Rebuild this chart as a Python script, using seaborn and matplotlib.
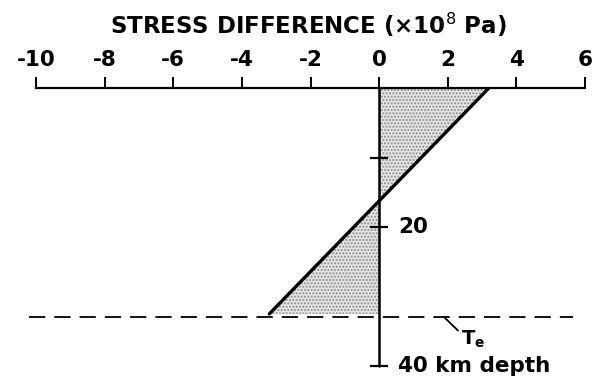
import matplotlib
matplotlib.use("Agg")
import matplotlib.pyplot as plt
import seaborn as sns
import pandas as pd

# stress profile through the elastic plate
depth_km = [0, 32.5]
stress_diff = [3.2, -3.2]
te_depth = 33
x_ticks = [-10, -8, -6, -4, -2, 0, 2, 4, 6]
depth_ticks = [10, 20, 40]

sns.set_style("white")
plt.rcParams['font.family'] = ['DejaVu Sans']
plt.rcParams['axes.unicode_minus'] = False
plt.rcParams['text.color'] = 'black'
plt.rcParams['xtick.color'] = 'black'
plt.rcParams['axes.edgecolor'] = 'black'

W, H = 596, 385
fig = plt.figure(figsize=(W / 100, H / 100), dpi=100)
# axes placed so that -10..6 spans the top axis and 0..40 km the depth line
ax = fig.add_axes([36 / W, 1 - 366 / H, (585 - 36) / W, (366 - 88) / H])
ax.set_xlim(-10, 6)
ax.set_ylim(40, 0)

df = pd.DataFrame({'depth': depth_km, 'stress': stress_diff})

# stippled wedges between profile and zero
ax.fill_betweenx(df['depth'], df['stress'], 0, facecolor='#e6e6e6',
                 edgecolor='#8a8a8a', hatch='.....', linewidth=0)
sns.lineplot(data=df, x='stress', y='depth', sort=False, color='black',
             linewidth=2.4, ax=ax, estimator=None)

# depth axis at zero stress
ax.plot([0, 0], [0, 40], color='black', linewidth=1.8, clip_on=False)
ax.plot([0] * len(depth_ticks), depth_ticks, linestyle='none', marker='_',
        markersize=13, markeredgewidth=1.6, color='black', clip_on=False)
ax.text(0.55, 20, '20', fontsize=15.5, fontweight='bold', va='center', ha='left')
ax.text(0.55, 40, '40 km depth', fontsize=15.5, fontweight='bold', va='center', ha='left')

# elastic thickness
ax.plot([-10.2, 5.65], [te_depth, te_depth], color='black', linewidth=1.3,
        dashes=(9, 5), clip_on=False)
ax.plot([1.9, 2.3], [te_depth, te_depth + 1.9], color='black', linewidth=1.3)
ax.text(2.4, te_depth + 3.2, r'$\mathbf{T_e}$', fontsize=14,
        va='center', ha='left')

# top stress axis
for side in ['left', 'right', 'bottom']:
    ax.spines[side].set_visible(False)
ax.spines['top'].set_linewidth(1.6)
ax.xaxis.tick_top()
ax.set_xticks(x_ticks)
ax.set_xticklabels([str(t) for t in x_ticks], fontsize=15.5, fontweight='bold')
ax.tick_params(axis='x', direction='out', length=8, width=1.4, pad=5)
ax.set_yticks([])
ax.set_xlabel('')
ax.set_ylabel('')

fig.text(308 / W, 1 - 25 / H, 'STRESS DIFFERENCE (×10$^{8}$ Pa)', fontsize=16.5,
         fontweight='bold', ha='center', va='center')

fig.savefig('out.png', dpi=100, facecolor='white')
